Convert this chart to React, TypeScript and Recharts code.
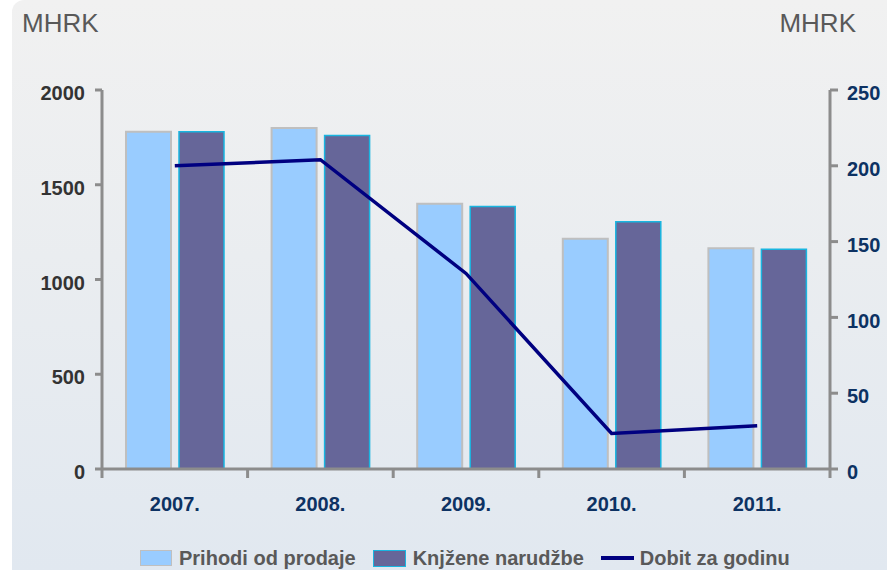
import React from "react";
import { ComposedChart, Bar, Line, XAxis, YAxis } from "recharts";

const years = ["2007.", "2008.", "2009.", "2010.", "2011."];
const prihodi = [1780, 1800, 1400, 1215, 1165];
const narudzbe = [1780, 1760, 1385, 1305, 1160];
const dobit = [200, 204, 129, 23.5, 28.5];
const leftTicks = [0, 500, 1000, 1500, 2000];
const rightTicks = [0, 50, 100, 150, 200, 250];
const seriesNames = ["Prihodi od prodaje", "Knjžene narudžbe", "Dobit za godinu"];
const unitLabel = "MHRK";

const data = years.map((y, i) => ({
  year: y,
  prihodi: prihodi[i],
  narudzbe: narudzbe[i],
  dobit: dobit[i],
}));

const FONT = "'Liberation Sans', Arial, sans-serif";
const AXIS_GRAY = "#8c8c8c";
const NAVY_TEXT = "#0d3263";

const XTick = (props: any) => {
  const { x, y, payload, index } = props;
  const half = payload && payload.offset ? payload.offset : 72.8;
  return (
    <g>
      <line x1={x - half} y1={y} x2={x - half} y2={y + 9} stroke={AXIS_GRAY} strokeWidth={3} />
      {index === years.length - 1 && (
        <line x1={x + half} y1={y} x2={x + half} y2={y + 9} stroke={AXIS_GRAY} strokeWidth={3} />
      )}
      <text
        x={x}
        y={y + 42}
        textAnchor="middle"
        fill={NAVY_TEXT}
        fontSize={20}
        fontWeight="bold"
        fontFamily={FONT}
      >
        {payload.value}
      </text>
    </g>
  );
};

const LegendItem = ({ kind, label }: { kind: string; label: string }) => (
  <div style={{ display: "flex", alignItems: "center", marginRight: 17 }}>
    {kind === "line" ? (
      <div style={{ width: 33, height: 3.5, background: "#000080", marginRight: 6 }} />
    ) : (
      <div
        style={{
          width: kind === "light" ? 30 : 31,
          height: kind === "light" ? 14 : 15,
          background: kind === "light" ? "#99ccff" : "#666699",
          border: kind === "light" ? "1px solid #bfbfbf" : "1px solid #19b5e0",
          marginRight: 7,
        }}
      />
    )}
    <span style={{ fontFamily: FONT, fontWeight: "bold", fontSize: 20, color: "#595959", whiteSpace: "nowrap" }}>
      {label}
    </span>
  </div>
);

export default function App() {
  return (
    <div
      style={{
        position: "absolute",
        left: 0,
        top: 0,
        width: 887,
        height: 570,
        background: "#ffffff",
        overflow: "hidden",
      }}
    >
      <div
        style={{
          position: "absolute",
          left: 12,
          top: 0,
          right: 0,
          bottom: 0,
          background: "linear-gradient(to bottom, #f1f1f1 0%, #eaedf0 45%, #e1e8f0 100%)",
          borderTopLeftRadius: 12,
        }}
      />
      <svg width={887} height={60} style={{ position: "absolute", left: 0, top: 0 }}>
        <text x={22} y={32} fontFamily={FONT} fontSize={26} fill="#595959">
          {unitLabel}
        </text>
        <text x={856} y={32} textAnchor="end" fontFamily={FONT} fontSize={26} fill="#595959">
          {unitLabel}
        </text>
      </svg>
      <div style={{ position: "absolute", left: 0, top: 0 }}>
        <ComposedChart
          width={887}
          height={570}
          data={data}
          margin={{ top: 90, right: 0, bottom: 0, left: 0 }}
          barCategoryGap={24}
          barGap={8}
        >
          <XAxis
            dataKey="year"
            height={101}
            axisLine={{ stroke: AXIS_GRAY, strokeWidth: 3 }}
            tickLine={false}
            tickSize={0}
            tickMargin={0}
            tick={<XTick />}
            interval={0}
          />
          <YAxis
            yAxisId="left"
            orientation="left"
            width={102}
            domain={[0, 2000]}
            ticks={leftTicks}
            interval={0}
            tickSize={7}
            tickMargin={10}
            axisLine={{ stroke: AXIS_GRAY, strokeWidth: 3 }}
            tickLine={{ stroke: AXIS_GRAY, strokeWidth: 3 }}
            tick={{ fill: "#333333", fontSize: 20, fontWeight: "bold", fontFamily: FONT, dy: 3 }}
          />
          <YAxis
            yAxisId="right"
            orientation="right"
            width={57}
            domain={[0, 250]}
            ticks={rightTicks}
            interval={0}
            tickSize={8}
            tickMargin={9}
            axisLine={{ stroke: AXIS_GRAY, strokeWidth: 3 }}
            tickLine={{ stroke: AXIS_GRAY, strokeWidth: 3 }}
            tick={{ fill: NAVY_TEXT, fontSize: 20, fontWeight: "bold", fontFamily: FONT, dy: 3 }}
          />
          <Bar
            yAxisId="left"
            dataKey="prihodi"
            name={seriesNames[0]}
            fill="#99ccff"
            stroke="#bfbfbf"
            strokeWidth={2}
            isAnimationActive={false}
          />
          <Bar
            yAxisId="left"
            dataKey="narudzbe"
            name={seriesNames[1]}
            fill="#666699"
            stroke="#19b5e0"
            strokeWidth={1.5}
            isAnimationActive={false}
          />
          <Line
            yAxisId="right"
            dataKey="dobit"
            name={seriesNames[2]}
            type="linear"
            stroke="#000080"
            strokeWidth={3.5}
            dot={false}
            activeDot={false}
            isAnimationActive={false}
          />
        </ComposedChart>
      </div>
      <div
        style={{
          position: "absolute",
          left: 140,
          top: 546,
          height: 24,
          display: "flex",
          alignItems: "center",
        }}
      >
        <LegendItem kind="light" label={seriesNames[0]} />
        <LegendItem kind="dark" label={seriesNames[1]} />
        <LegendItem kind="line" label={seriesNames[2]} />
      </div>
    </div>
  );
}
